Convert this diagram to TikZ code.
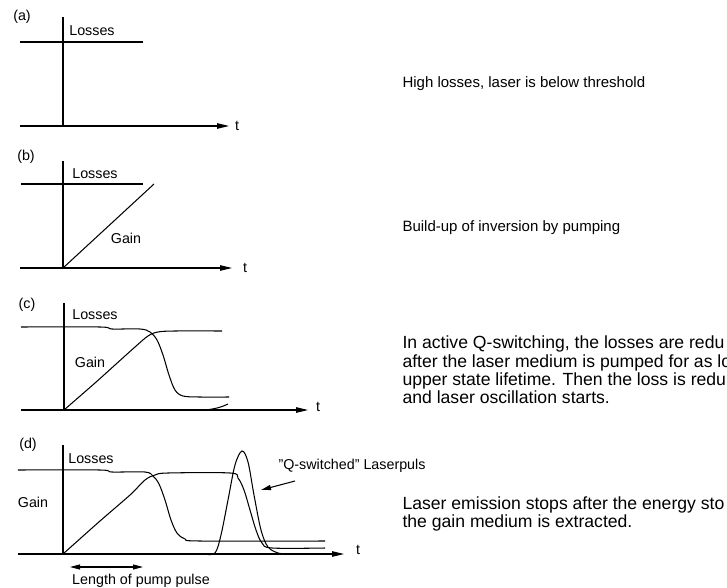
\documentclass[tikz,border=0pt]{standalone}
\usepackage{fontspec}
\setmainfont{Liberation Sans}
\usetikzlibrary{positioning,arrows.meta}

\begin{document}
\begin{tikzpicture}[x=1pt, y=-1pt, >={Triangle[length=12pt,width=5.5pt]}, line width=1.05pt]
    \tikzstyle{lbl}=[inner sep=0pt, font=\fontsize{14.3}{16}\selectfont]
    \tikzstyle{note}=[inner sep=0pt, anchor=west, align=left, font=\fontsize{15}{17.7}\selectfont]
    \tikzstyle{bignote}=[note, font=\fontsize{17.6}{18.3}\selectfont]
    \tikzstyle{curve}=[smooth, tension=0.55]

    \useasboundingbox (0,0) rectangle (727,588);

    % (a) losses only
    \node[lbl] (tagA) at (22,17) {(a)};
    \coordinate (topA) at (63,17);
    \coordinate (oA) at (63,126);
    \draw (topA) -- (oA);
    \draw (20,42) -- (143,42);
    \node[lbl] (lossA) at (92,31) {Losses};
    \coordinate (axA0) at (20,126);
    \coordinate (axA1) at (229,126);
    \draw[->] (axA0) -- (axA1);
    \node[lbl] (tA) at (237,126) {t};
    \node[note] (descA) at (402,84) {High losses, laser is below threshold};

    % (b) pumping
    \node[lbl] (tagB) at (26,157) {(b)};
    \coordinate (topB) at (63,161);
    \coordinate (oB) at (63,268);
    \draw (topB) -- (oB);
    \draw (21,184) -- (143,184);
    \node[lbl] (lossB) at (95,174) {Losses};
    \coordinate (gainB) at (154,184);
    \draw (oB) -- (gainB);
    \node[lbl] (gainBtxt) at (126,238) {Gain};
    \coordinate (axB0) at (20,268);
    \coordinate (axB1) at (232,268);
    \draw[->] (axB0) -- (axB1);
    \node[lbl] (tB) at (245,268) {t};
    \node[note] (descB) at (402,228) {Build-up of inversion by pumping};

    % (c) switching
    \node[lbl] (tagC) at (27,305) {(c)};
    \coordinate (topC) at (64,303);
    \coordinate (oC) at (64,410);
    \draw (topC) -- (oC);
    \node[lbl] (lossC) at (95,315) {Losses};
    \node[lbl] (gainCtxt) at (90,362) {Gain};
    \draw plot[curve] coordinates {(21,327) (100,327) (112,329) (140,329) (150,332) (157,340) (163,355) (169,375) (175,390) (183,396) (200,397) (229,397)};
    \draw plot[curve] coordinates {(64,410) (95,383) (115,365) (135,347) (148,336) (158,332) (175,331) (222,331)};
    \draw (205,410) .. controls (215,409) and (222,407) .. (228,404);
    \coordinate (axC0) at (21,410);
    \coordinate (axC1) at (308,410);
    \draw[->] (axC0) -- (axC1);
    \node[lbl] (tC) at (318,407) {t};
    \node[bignote] (descC) at (402,370) {In active Q-switching, the losses are redu\\after the laser medium is pumped for as lo\\upper state lifetime. Then the loss is redu\\and laser oscillation starts.};

    % (d) pulse
    \node[lbl] (tagD) at (28,445) {(d)};
    \coordinate (topD) at (63,445);
    \coordinate (oD) at (63,554);
    \draw (topD) -- (oD);
    \node[lbl] (lossD) at (91,459) {Losses};
    \node[lbl] (gainDtxt) at (33,502) {Gain};
    \draw plot[curve] coordinates {(18,470) (100,470) (112,472) (145,472) (153,476) (159,484) (165,500) (171,520) (177,533) (185,539) (200,541) (325,541)};
    \draw plot[curve] coordinates {(63,554) (100,521) (130,495) (145,480) (155,475) (168,473) (230,473) (238,478) (244,490) (250,510) (256,530) (262,543) (272,548) (325,548)};
    \draw plot[curve] coordinates {(205,554) (215,553) (221,535) (228,500) (235,465) (242,451) (248,462) (254,495) (261,530) (268,547) (278,553) (285,554)};
    \coordinate (axD0) at (18,554);
    \coordinate (axD1) at (344,554);
    \draw[->] (axD0) -- (axD1);
    \node[lbl] (tD) at (358,550) {t};
    \node[lbl, anchor=west] (qsw) at (278,466) {\symbol{34}Q-switched\symbol{34} Laserpuls};
    \coordinate (qtail) at (295,481);
    \coordinate (pulseD) at (261,490);
    \draw[->, >={Triangle[length=10pt,width=5pt]}] (qtail) -- (pulseD);
    \coordinate (pumpL) at (70,567);
    \coordinate (pumpR) at (143,567);
    \draw[<->, >={Triangle[length=10pt,width=5pt]}] (pumpL) -- (pumpR);
    \node[lbl] (pumpTxt) at (141,581) {Length of pump pulse};
    \node[bignote] (descD) at (402,514) {Laser emission stops after the energy sto\\the gain medium is extracted.};
\end{tikzpicture}
\end{document}
